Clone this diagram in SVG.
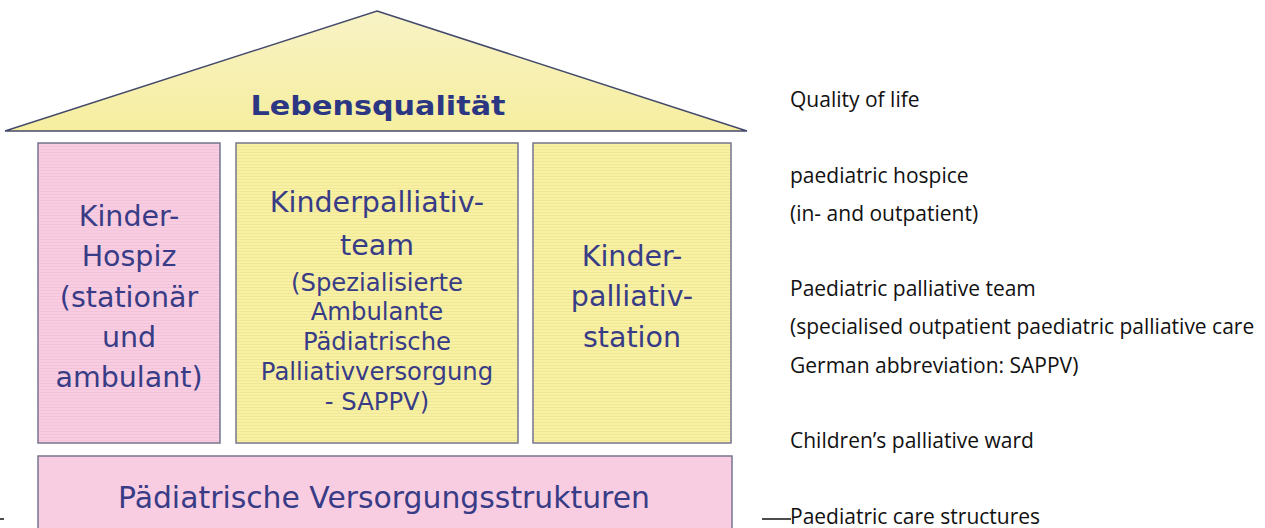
<svg xmlns="http://www.w3.org/2000/svg" width="1265" height="528" viewBox="0 0 1265 528">
<style>
.box{stroke:#76768f;stroke-width:1.5}
.pink{fill:url(#pinkStripes)}
.yellow{fill:url(#yellowStripes)}
.de{font-family:"DejaVu Sans",Verdana,sans-serif;fill:#383c87;text-anchor:middle}
.big{font-size:28.5px}
.small{font-size:24.3px}
.en{font-family:"Open Sans","Noto Sans",sans-serif;font-size:21px;fill:#111}
.lead{stroke:#111;stroke-width:1.5;fill:none}
</style>
<defs>
<pattern id="pinkStripes" width="6" height="3" patternUnits="userSpaceOnUse">
<rect width="6" height="3" fill="#f9cde1"/>
<rect y="2" width="6" height="1" fill="#f3c4d9"/>
</pattern>
<pattern id="yellowStripes" width="6" height="3" patternUnits="userSpaceOnUse">
<rect width="6" height="3" fill="#f8f1a4"/>
<rect y="2" width="6" height="1" fill="#f0e797"/>
</pattern>
<linearGradient id="roofGrad" x1="0" y1="0" x2="0" y2="1">
<stop offset="0" stop-color="#f8f3c6"/>
<stop offset="1" stop-color="#f6ee9f"/>
</linearGradient>
</defs>
<rect width="1265" height="528" fill="#ffffff"/>

<g id="roof">
<polygon points="377,11 747,131 5,131" fill="url(#roofGrad)" stroke="#444a6a" stroke-width="1.5" stroke-linejoin="miter"/>
<text x="378" y="115" font-family="DejaVu Sans,Verdana,sans-serif" font-weight="bold" font-size="27" fill="#2c3784" text-anchor="middle" textLength="255" lengthAdjust="spacingAndGlyphs">Lebensqualität</text>
</g>

<g id="hospiz">
<rect class="box pink" x="38" y="143" width="182" height="300"/>
<text class="de big" x="129" y="226">Kinder-</text>
<text class="de big" x="129" y="266">Hospiz</text>
<text class="de big" x="129" y="307">(stationär</text>
<text class="de big" x="129" y="347">und</text>
<text class="de big" x="129" y="387">ambulant)</text>
</g>

<g id="palliativteam">
<rect class="box yellow" x="236" y="143" width="282" height="300"/>
<text class="de big" x="377" y="212">Kinderpalliativ-</text>
<text class="de big" x="377" y="255">team</text>
<text class="de small" x="377" y="291">(Spezialisierte</text>
<text class="de small" x="377" y="320">Ambulante</text>
<text class="de small" x="377" y="350">Pädiatrische</text>
<text class="de small" x="377" y="380">Palliativversorgung</text>
<text class="de small" x="377" y="410">- SAPPV)</text>
</g>

<g id="palliativstation">
<rect class="box yellow" x="533" y="143" width="198" height="300"/>
<text class="de big" x="632" y="266">Kinder-</text>
<text class="de big" x="632" y="306">palliativ-</text>
<text class="de big" x="632" y="347">station</text>
</g>

<g id="versorgungsstrukturen">
<rect class="box" x="38" y="456" width="694" height="80" fill="#f9cde1"/>
<text class="de" x="384" y="508" font-size="30" textLength="532" lengthAdjust="spacingAndGlyphs">Pädiatrische Versorgungsstrukturen</text>
</g>

<g id="legend">
<text class="en" x="790" y="107">Quality of life</text>
<text class="en" x="790" y="183">paediatric hospice</text>
<text class="en" x="790" y="221">(in- and outpatient)</text>
<text class="en" x="790" y="296">Paediatric palliative team</text>
<text class="en" x="790" y="334">(specialised outpatient paediatric palliative care</text>
<text class="en" x="790" y="373">German abbreviation: SAPPV)</text>
<text class="en" x="790" y="448">Children’s palliative ward</text>
<text class="en" x="790" y="524">Paediatric care structures</text>
</g>

<g id="connectors">
<line class="lead" x1="0" y1="519" x2="4" y2="519"/>
<line class="lead" x1="762" y1="519" x2="791" y2="519"/>
</g>
</svg>
